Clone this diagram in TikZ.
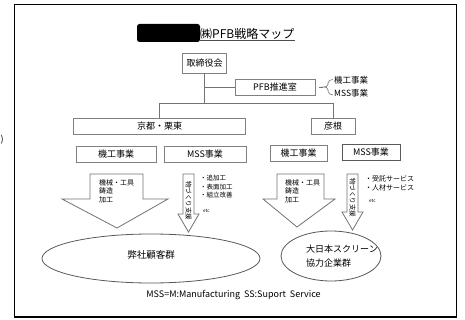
\documentclass[tikz,border=0pt]{standalone}
\usepackage{fontspec}
\setmainfont{Noto Sans CJK JP}
\usetikzlibrary{calc}
\tikzset{
  box/.style={draw=black!50, line width=0.7pt, fill=white, inner sep=0pt, font=\fontsize{9}{10}\selectfont},
  conn/.style={draw=black!55, line width=0.8pt},
  arr/.style={draw=black!55, line width=0.8pt, fill=white},
  small/.style={font=\fontsize{7}{8.5}\selectfont, inner sep=0pt, align=left},
  tiny/.style={font=\fontsize{4.5}{5}\selectfont, inner sep=0pt},
  vtext/.style={font=\fontsize{6.5}{7}\selectfont, inner sep=0pt, rotate=-90}
}
\begin{document}
\begin{tikzpicture}[x=1pt,y=-1pt]
\useasboundingbox (0,0) rectangle (465,320);
\fill[white] (0,0) rectangle (465,320);
% outer frame
\draw[line width=1.6pt] (14.5,4.5) rectangle (456.5,317);
% fragment outside frame
\node[font=\fontsize{9}{9}\selectfont, anchor=west, inner sep=0pt] (frag) at (0.5,140) {)};
% title
\fill[black, rounded corners=2.5pt] (137,24) rectangle (200,42);
\node[anchor=west, inner sep=0pt, font=\fontsize{12}{13}\selectfont] (title) at (200,33.5) {㈱PFB戦略マップ};
\draw[black!70, line width=0.6pt] (title.south west) ++(0,1) -- ($(title.south east)+(0,1)$);
% tree
\node[box, minimum width=44pt, minimum height=20pt] (board) at (204.5,63) {取締役会};
\node[box, minimum width=80pt, minimum height=16pt] (pfb) at (275,87) {PFB推進室};
\node[box, minimum width=172pt, minimum height=16pt] (kyoto) at (159.5,126) {京都・栗東};
\node[box, minimum width=44pt, minimum height=16pt] (hikone) at (333,126) {彦根};
\coordinate (hl) at (204.5,103);
\draw[conn] (board.south) -- (hl);
\draw[conn] (board.south |- pfb.west) -- (pfb.west);
\draw[conn] (kyoto.north) -- (kyoto.north |- hl) -- (hikone.north |- hl) -- (hikone.north);
% brace
\coordinate (br) at (323,87);
\draw[conn, line width=0.6pt] (pfb.east) ++(4,0) -- (br);
\draw[conn, line width=0.6pt] (333,79.5) to[out=180,in=90] (328,83) -- (328,84.5) to[out=-90,in=0] (br) to[out=0,in=90] (328,89.5) -- (328,91) to[out=-90,in=180] (333,95);
\node[small, font=\fontsize{8.5}{9}\selectfont, anchor=west] (pk) at (334,80.5) {機工事業};
\node[small, font=\fontsize{8.5}{9}\selectfont, anchor=west] (pm) at (334,93.5) {MSS事業};
% divisions
\node[box, minimum width=80pt, minimum height=16pt] (k1) at (116,154) {機工事業};
\node[box, minimum width=82pt, minimum height=16pt] (m1) at (205,154) {MSS事業};
\node[box, minimum width=57pt, minimum height=16pt] (k2) at (298.5,153) {機工事業};
\node[box, draw=black!65, line width=0.9pt, minimum width=58pt, minimum height=16pt] (m2) at (371,152) {MSS事業};
% big arrows
\draw[arr] (90,174) -- (143,174) -- (143,199) -- (168,199) -- (117,228) -- (62,199) -- (90,199) -- cycle;
\node[small, anchor=north west] (a1) at (99,179) {機械・工具\\鋳造\\加工};
\draw[arr] (277,174) -- (324,174) -- (324,199) -- (335,199) -- (297,227) -- (263,199) -- (277,199) -- cycle;
\node[small, anchor=north west] (a2) at (285,179) {機械・工具\\鋳造\\加工};
% narrow arrows
\draw[arr] (183,174) -- (194,174) -- (194,214) -- (199,214) -- (188.5,232) -- (178,214) -- (183,214) -- cycle;
\node[vtext] (v1) at (188.5,201) {物づくり支援};
\node[small, font=\fontsize{6.5}{8.5}\selectfont, anchor=north west] (t1) at (200,175) {・追加工\\・表面加工\\・組立改善};
\node[tiny, anchor=west] (e1) at (203,211) {etc};
\draw[arr] (347,174) -- (358,174) -- (358,212) -- (363,212) -- (352.5,230) -- (342,212) -- (347,212) -- cycle;
\node[vtext] (v2) at (352.5,198) {物づくり支援};
\node[small, font=\fontsize{7}{9.5}\selectfont, anchor=north west] (t2) at (365,175) {・受託サービス\\・人材サービス};
\node[tiny, anchor=west] (e2) at (369,201) {etc};
% ellipses
\draw[draw=black!65, line width=0.8pt] (151,258.5) ellipse [x radius=109, y radius=24.5];
\node[inner sep=0pt, font=\fontsize{9.5}{10}\selectfont] (c1) at (151,255) {弊社顧客群};
\draw[draw=black!65, line width=0.8pt] (331,256) ellipse [x radius=50, y radius=25];
\node[inner sep=0pt, align=left, font=\fontsize{9}{14}\selectfont, anchor=west] (c2) at (306,256) {大日本スクリーン\\協力企業群};
% footnote
\node[inner sep=0pt, font=\fontsize{9}{10}\selectfont] (foot) at (233.5,295) {MSS=M:Manufacturing\ \ SS:Suport\ \ Service};
\end{tikzpicture}
\end{document}
